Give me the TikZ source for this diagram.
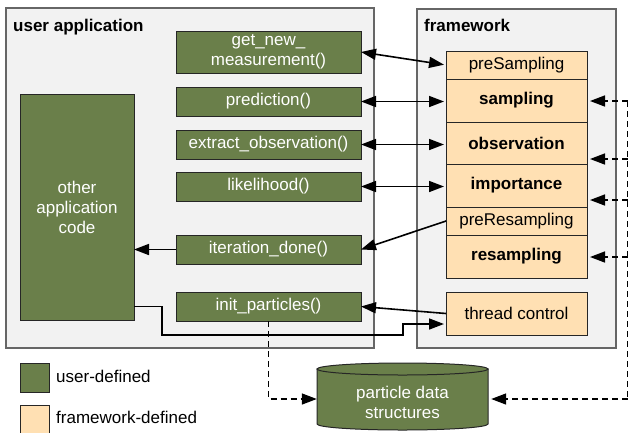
\documentclass[tikz,border=0pt]{standalone}
\usepackage{fontspec}
\setmainfont{Liberation Sans}
\usetikzlibrary{arrows.meta,calc}
\definecolor{ugreen}{HTML}{6A7F4A}
\definecolor{forange}{HTML}{FFE0B3}
\definecolor{panel}{HTML}{F2F2F2}
\begin{document}
\begin{tikzpicture}[x=1pt,y=-1pt,
  txt/.style={font=\fontsize{17}{20}\selectfont},
  panelbox/.style={draw=black!60, fill=panel, line width=1.1pt},
  title/.style={anchor=base west, inner sep=0, font=\bfseries\fontsize{17}{20}\selectfont},
  ubox/.style={txt, draw=black!85, fill=ugreen, text=white, line width=1pt, inner sep=0, outer sep=0, minimum width=185pt, minimum height=29pt, align=center},
  fwbox/.style={txt, draw=black!85, fill=forange, line width=1pt, inner sep=0, outer sep=0, minimum width=141pt, align=center},
  tip/.tip={Triangle[length=15pt,width=11pt]},
  conn/.style={line width=1.6pt, -tip},
  biconn/.style={line width=1.6pt, tip-tip},
  dconn/.style={line width=1.5pt, -tip, dash pattern=on 6pt off 4pt},
  dline/.style={line width=1.5pt, dash pattern=on 6pt off 4pt},
  legtext/.style={txt, anchor=base west, inner sep=0}
]
\useasboundingbox (0,0) rectangle (629,432);

% panels
\draw[panelbox] (6,8) rectangle (374,348);
\draw[panelbox] (417,9) rectangle (616,348);
\node[title] (ut) at (13,31) {user application};
\node[title] (ft) at (424,31) {framework};

% user-defined functions
\node[ubox, minimum height=42pt] (gnm) at (268.5,52) {get\_new\_\\measurement()};
\node[ubox] (pred) at (268.5,101.5) {prediction()};
\node[ubox] (extr) at (268.5,144.5) {extract\_observation()};
\node[ubox] (like) at (268.5,186.5) {likelihood()};
\node[ubox] (iter) at (268.5,249.5) {iteration\_done()};
\node[ubox] (init) at (268.5,306.5) {init\_particles()};
\node[ubox, minimum width=114pt, minimum height=226pt] (other) at (77,207) {other\\application\\code};

% framework stack
\node[fwbox, minimum height=28pt] (preS) at (516.5,65) {preSampling};
\node[fwbox, minimum height=43pt, font=\bfseries\fontsize{17}{20}\selectfont] (samp) at (516.5,100.5) {sampling};
\node[fwbox, minimum height=42pt, font=\bfseries\fontsize{17}{20}\selectfont] (obs) at (516.5,143) {observation};
\node[fwbox, minimum height=43pt, font=\bfseries\fontsize{17}{20}\selectfont] (imp) at (516.5,185.5) {importance};
\node[fwbox, minimum height=28pt] (preR) at (516.5,221) {preResampling};
\node[fwbox, minimum height=43pt, font=\bfseries\fontsize{17}{20}\selectfont] (res) at (516.5,256.5) {resampling};
\node[fwbox, minimum height=43pt] (thr) at (516.5,313.5) {thread control};

% cylinder
\filldraw[fill=ugreen, draw=black!85, line width=1pt]
  (317,369) -- (317,424) arc[start angle=180, end angle=360, x radius=85.5pt, y radius=6pt] -- (488,369) -- cycle;
\filldraw[fill=ugreen, draw=black!85, line width=1pt] (402.5,369) ellipse [x radius=85.5pt, y radius=6pt];
\node[txt, text=white, align=center, inner sep=0, minimum width=171pt, minimum height=50pt] (db) at (402.5,402) {particle data\\structures};

% legend
\node[draw=black!85, fill=ugreen, line width=1pt, minimum width=29pt, minimum height=29pt, inner sep=0] (lg1) at (34.5,377.5) {};
\node[legtext] (lt1) at (56,382) {user-defined};
\node[draw=black!85, fill=forange, line width=1pt, minimum width=29pt, minimum height=30pt, inner sep=0] (lg2) at (34.5,420) {};
\node[legtext] (lt2) at (56,423) {framework-defined};

% connectors user <-> framework
\draw[biconn, shorten >=2pt] (gnm.east) -- (preS.west);
\draw[biconn, shorten >=2pt] (pred.east) -- (pred.east -| samp.west);
\draw[biconn, shorten >=2pt] (extr.east) -- (extr.east -| obs.west);
\draw[biconn, shorten >=2pt] (like.east) -- (like.east -| imp.west);
\draw[conn] (preR.west) -- (iter.east);
\draw[conn] (thr.west) -- (init.east);
\draw[conn] (iter.west) -- (iter.west -| other.east);
\draw[conn, shorten >=2pt] (other.east |- init.east) -| (162,335) -| (403,324) -- ($(thr.west)+(0,10.5)$);

% dashed connectors
\draw[dconn] (init.south) |- ($(db.west)+(0,-3)$);
\coordinate (r1) at (627.5,101);
\coordinate (r2) at (627.5,159);
\coordinate (r3) at (627.5,200);
\coordinate (r4) at (627.5,257);
\coordinate (r5) at (627.5,399);
\draw[dline] (r1) -- (r5);
\draw[dconn, shorten >=3pt] (r1) -- (r1 -| samp.east);
\draw[dconn, shorten >=3pt] (r2) -- (r2 -| obs.east);
\draw[dconn, shorten >=3pt] (r3) -- (r3 -| imp.east);
\draw[dconn, shorten >=3pt] (r4) -- (r4 -| res.east);
\draw[dconn, shorten >=3pt] (r5) -- (r5 -| db.east);
\end{tikzpicture}
\end{document}
